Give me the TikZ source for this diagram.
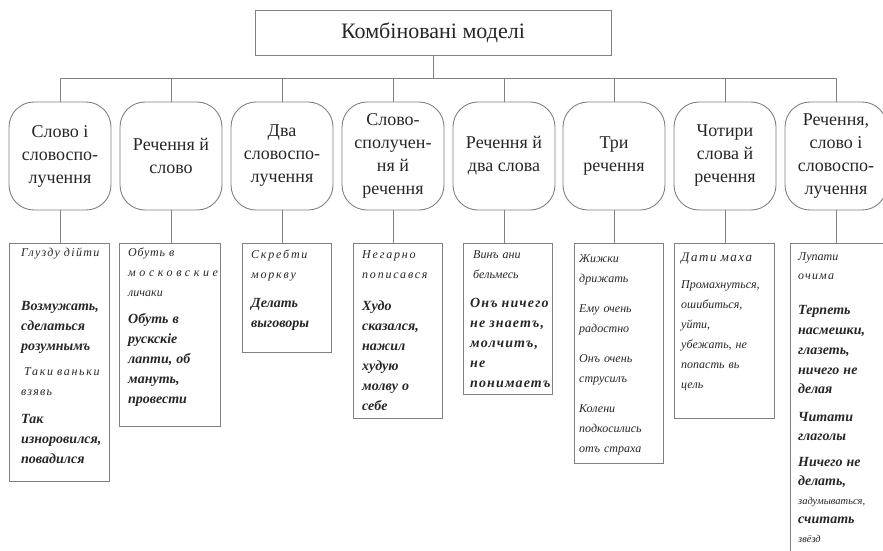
\documentclass[tikz,border=0pt]{standalone}
\usepackage{fontspec}
\setmainfont{Liberation Serif}
\usetikzlibrary{positioning,calc}

\newcommand{\lsp}[2]{{\addfontfeature{LetterSpace=#1}#2}}
\newcommand{\bdf}{\fontsize{14}{20}\selectfont\bfseries}
\newcommand{\smf}{\fontsize{10.5}{19}\selectfont}

\begin{document}
\begin{tikzpicture}[x=1pt, y=-1pt]
	\useasboundingbox (0,0) rectangle (883,550);
	\clip (0,0) rectangle (883,550);
	\begin{scope}
		\tikzstyle{every node}=[align=center, inner sep=0pt, text=black!85]
		\tikzstyle{ln}=[draw=black!50, line width=0.9pt]
		\tikzstyle{mdl}=[ln, rounded corners=25pt, minimum width=102pt, minimum height=108pt, font=\fontsize{18}{23}\selectfont]
		\tikzstyle{bx}=[ln, anchor=north west]
		\tikzstyle{ex}=[anchor=north west, align=left, text width=112pt, font=\fontsize{12}{20}\selectfont\itshape]

		\node[ln, minimum width=356pt, minimum height=45pt, font=\fontsize{22}{26}\selectfont] (kom) at (433, 32.5) {Комбіновані моделі};
		\coordinate (bus) at (0, 78);

		\node[mdl] (m1) at (60, 156)  {Слово і\\словоспо-\\лучення};
		\node[mdl] (m2) at (171, 156) {Речення й\\слово};
		\node[mdl] (m3) at (282, 156) {Два\\словоспо-\\лучення};
		\node[mdl] (m4) at (393, 156) {Слово-\\сполучен-\\ня й\\речення};
		\node[mdl] (m5) at (504, 156) {Речення й\\два слова};
		\node[mdl] (m6) at (614, 156) {Три\\речення};
		\node[mdl] (m7) at (725, 156) {Чотири\\слова й\\речення};
		\node[mdl] (m8) at (836, 156) {Речення,\\слово і\\словоспо-\\лучення};

		\node[bx, minimum width=100pt, minimum height=238pt] (b1) at (9, 243)   {};
		\node[bx, minimum width=101pt, minimum height=183pt] (b2) at (119, 243) {};
		\node[bx, minimum width=89pt,  minimum height=109pt] (b3) at (242, 243) {};
		\node[bx, minimum width=89pt,  minimum height=175pt] (b4) at (353, 243) {};
		\node[bx, minimum width=89pt,  minimum height=151pt] (b5) at (463, 243) {};
		\node[bx, minimum width=89pt,  minimum height=220pt] (b6) at (574, 243) {};
		\node[bx, minimum width=100pt, minimum height=175pt] (b7) at (674, 243) {};
		\node[bx, minimum width=100pt, minimum height=330pt] (b8) at (790, 243) {};

		% examples
		\node[ex, below right=5pt and 12pt of b1.north west] (t1) {\lsp{11}{Глузду дійти}\\[34pt]
			{\bdf Возмужать,\\сделаться\\розумнымъ}\\[5pt]
			\hspace*{3pt}\lsp{14}{Таки ваньки}\\\lsp{10}{взявь}\\[8pt]
			{\bdf Так\\изноровился,\\повадился}};
		\node[ex, below right=5pt and 9pt of b2.north west] (t2) {\lsp{6}{Обуть в}\\\lsp{30}{московские}\\личаки\\[7pt]
			{\bdf Обуть в\\рускскіе\\лапти, об\\мануть,\\провести}};
		\node[ex, below right=7pt and 9pt of b3.north west] (t3) {\lsp{15}{Скребти}\\\lsp{15}{моркву}\\[9pt]
			{\bdf Делать\\выговоры}};
		\node[ex, below right=7pt and 9pt of b4.north west] (t4) {\lsp{15}{Негарно}\\\lsp{15}{пописався}\\[12pt]
			{\bdf Худо\\сказался,\\нажил\\худую\\молву о\\себе}};
		\node[ex, below right=7pt and 10pt of b5.north west] (t5) {Винъ ани\\бельмесь\\[9pt]
			{\bdf\addfontfeature{LetterSpace=8}\hspace*{-3pt}Онъ ничего\\\hspace*{-3pt}не знаетъ,\\\hspace*{-3pt}молчитъ,\\\hspace*{-3pt}не\\\hspace*{-3pt}понимаетъ}};
		\node[ex, below right=11pt and 5pt of b6.north west] (t6) {Жижки\\дрижать\\[10pt]
			Ему очень\\радостно\\[10pt]
			Онъ очень\\струсилъ\\[10pt]
			Колени\\подкосились\\отъ страха};
		\node[ex, below right=10pt and 7pt of b7.north west] (t7) {{\fontsize{13}{20}\selectfont\lsp{12}{Дати маха}}\\[7pt]
			Промахнуться,\\ошибиться,\\уйти,\\убежать, не\\попасть вь\\цель};
		\node[ex, below right=9pt and 8pt of b8.north west, font=\fontsize{12}{19}\selectfont\itshape] (t8) {Лупати\\\lsp{10}{очима}\\[15pt]
			{\bdf Терпеть\\насмешки,\\глазеть,\\ничего не\\делая}\\[8pt]
			{\bdf Читати\\глаголы}\\[6pt]
			{\bdf Ничего не\\делать,}\\
			{\smf задумываться,}\\
			{\bdf считать}\\
			{\smf звёзд}};

		\draw[ln] (kom) -- (kom |- bus);
		\draw[ln] (m1 |- bus) -- (m8 |- bus);

		\draw[ln] (m1 |- bus) -- (m1);
		\draw[ln] (m2 |- bus) -- (m2);
		\draw[ln] (m3 |- bus) -- (m3);
		\draw[ln] (m4 |- bus) -- (m4);
		\draw[ln] (m5 |- bus) -- (m5);
		\draw[ln] (m6 |- bus) -- (m6);
		\draw[ln] (m7 |- bus) -- (m7);
		\draw[ln] (m8 |- bus) -- (m8);

		\draw[ln] (m1) -- (m1 |- b1.north);
		\draw[ln] (m2) -- (m2 |- b2.north);
		\draw[ln] (m3) -- (m3 |- b3.north);
		\draw[ln] (m4) -- (m4 |- b4.north);
		\draw[ln] (m5) -- (m5 |- b5.north);
		\draw[ln] (m6) -- (m6 |- b6.north);
		\draw[ln] (m7) -- (m7 |- b7.north);
		\draw[ln] (m8) -- (m8 |- b8.north);
	\end{scope}
\end{tikzpicture}
\end{document}
